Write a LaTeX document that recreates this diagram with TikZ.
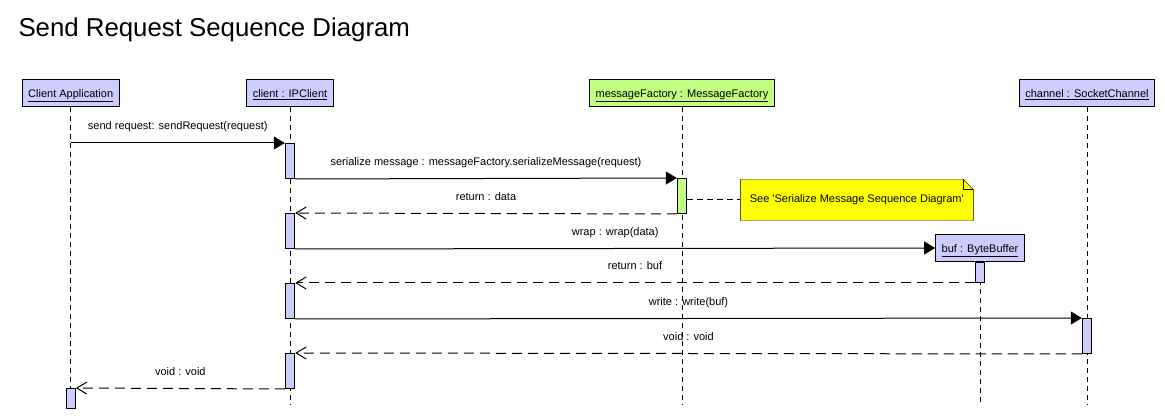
\documentclass[tikz,border=0pt]{standalone}
\usepackage{fontspec}
\setmainfont{Liberation Sans}
\usetikzlibrary{arrows.meta,backgrounds}
\definecolor{objblue}{RGB}{204,204,255}
\definecolor{objgreen}{RGB}{192,255,128}
\definecolor{noteyellow}{RGB}{255,255,0}
\tikzset{
  head/.style={draw, fill=objblue, minimum height=27pt, inner xsep=6pt, text height=9pt, text depth=0pt},
  act/.style={draw, fill=objblue, minimum width=9.4pt, inner sep=0pt, anchor=north},
  lifeline/.style={dash pattern=on 5pt off 4pt},
  call/.style={-{Triangle[length=11pt,width=13pt]}},
  reply/.style={dash pattern=on 10pt off 6pt, -{Straight Barb[length=10pt,width=12pt]}},
  msg/.style={midway, yshift=17pt, text height=8pt, text depth=0pt},
  notebox/.style={minimum width=232pt, minimum height=40pt, inner sep=0pt},
  notelink/.style={dash pattern=on 6pt off 4pt}
}
\begin{document}
\begin{tikzpicture}[x=1pt, y=-1pt, line width=1pt, font=\fontsize{11}{13}\selectfont]
\useasboundingbox (0,0) rectangle (1165,419);
\node[anchor=base west, inner sep=0pt, font=\fontsize{25.8}{30}\selectfont] (title) at (18,36.5) {Send Request Sequence Diagram};
\node[head] (app) at (70.7,93.5) {\underline{Client Application}};
\node[head] (client) at (290,93.5) {\underline{client : IPClient}};
\node[head, fill=objgreen] (factory) at (682,93.5) {\underline{messageFactory : MessageFactory}};
\node[head] (buf) at (980,248) {\underline{buf : ByteBuffer}};
\node[head] (channel) at (1087,93.5) {\underline{channel : SocketChannel}};
\coordinate (bottom) at (0,405);
\draw[lifeline] (app.south) -- (app.south |- bottom);
\draw[lifeline] (client.south) -- (client.south |- bottom);
\draw[lifeline] (factory.south) -- (factory.south |- bottom);
\draw[lifeline] (buf.south) -- (buf.south |- bottom);
\draw[lifeline] (channel.south) -- (channel.south |- bottom);
\node[act, minimum height=35pt] (c1) at (290,143) {};
\node[act, fill=objgreen, minimum height=35pt] (f1) at (682,178) {};
\node[act, minimum height=35pt] (c2) at (290,213) {};
\node[act, minimum height=20pt] (b1) at (980,262) {};
\node[act, minimum height=35pt] (c3) at (290,283) {};
\node[act, minimum height=35pt] (h1) at (1087,318) {};
\node[act, minimum height=35pt] (c4) at (290,353) {};
\node[act, minimum height=20pt] (a1) at (70.7,388) {};
\draw[call] (app |- c1.north) -- (c1.north west) node[msg] {send request: sendRequest(request)};
\draw[call] (c1.south east) -- (f1.north west) node[msg] {serialize message : messageFactory.serializeMessage(request)};
\draw[reply] (f1.south west) -- (c2.north east) node[msg] {return : data};
\draw[call] (c2.south east) -- (buf.west) node[msg] {wrap : wrap(data)};
\draw[reply] (b1.south west) -- (c3.north east) node[msg] {return : buf};
\draw[call] (c3.south east) -- (h1.north west) node[msg] {write : write(buf)};
\draw[reply] (h1.south west) -- (c4.north east) node[msg] {void : void};
\draw[reply] (c4.south west) -- (a1.north east) node[msg] {void : void};
\node[notebox] (note) at (856.8,200) {See \textquotesingle Serialize Message Sequence Diagram\textquotesingle};
\begin{scope}[on background layer]
\draw[fill=noteyellow] (note.north west) -- ([xshift=-10pt]note.north east) -- ([yshift=-10pt]note.north east) -- (note.south east) -- (note.south west) -- cycle;
\end{scope}
\draw ([xshift=-10pt]note.north east) -- ([xshift=-10pt,yshift=-10pt]note.north east) -- ([yshift=-10pt]note.north east);
\draw[notelink] (f1.east |- note.west) -- (note.west);
\end{tikzpicture}
\end{document}
